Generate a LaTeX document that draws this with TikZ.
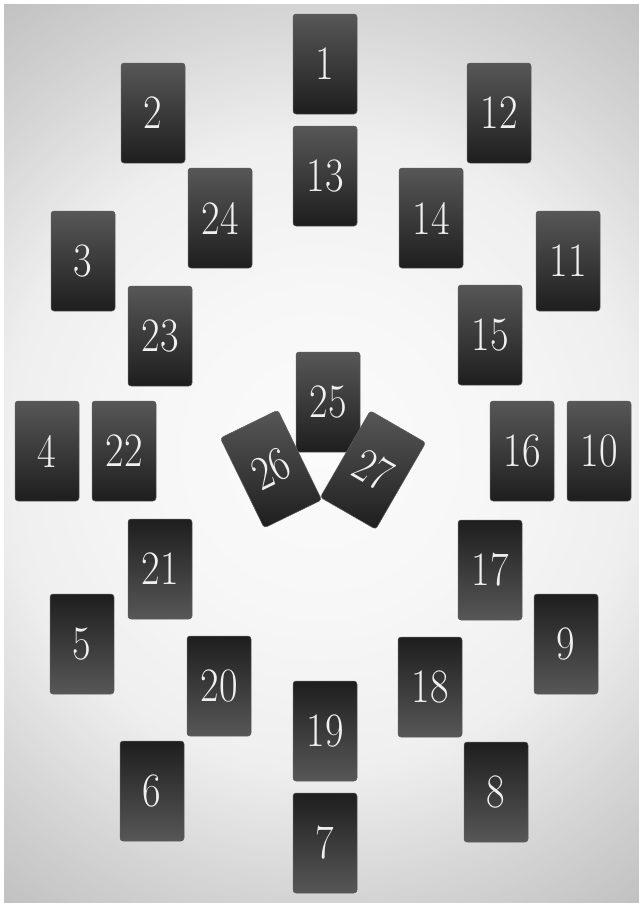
\documentclass[tikz,border=0pt]{standalone}
\usepackage{graphicx}
\usepackage{fontspec}
\setmainfont{Latin Modern Roman}
\definecolor{cardlight}{HTML}{575757}
\definecolor{carddark}{HTML}{1E1E1E}
\definecolor{cardedge}{HTML}{5E5E5E}
\definecolor{cardtext}{HTML}{F0F0F0}
\definecolor{bgc0}{HTML}{FBFBFB}
\definecolor{bgc1}{HTML}{F7F7F7}
\definecolor{bgc2}{HTML}{EFEFEF}
\definecolor{bgc3}{HTML}{D4D4D4}
\definecolor{bgc4}{HTML}{C0C0C0}
\newcommand\cardnum[1]{\scalebox{0.84}[1]{#1}}
\tikzset{
  card/.style={rounded corners=3pt, minimum width=64pt, minimum height=100pt,
    inner sep=0pt, draw=cardedge, line width=0.5pt, text=cardtext,
    font=\fontsize{48}{48}\selectfont},
  cardup/.style={card, top color=cardlight, bottom color=carddark},
  carddown/.style={card, top color=carddark, bottom color=cardlight}
}
\begin{document}
\begin{tikzpicture}[x=1pt,y=-1pt]
\useasboundingbox (0,0) rectangle (639,903);
\fill[white] (0,0) rectangle (639,903);
\coordinate (bgc) at (321,453);
\begin{scope}
\clip (4,4) rectangle (639,903);
\foreach \r in {560,556,...,452} {
  \pgfmathtruncatemacro\p{(560-\r)/110*100}
  \fill[bgc3!\p!bgc4] (bgc) circle (\r pt);
}
\foreach \r in {448,444,...,320} {
  \pgfmathtruncatemacro\p{(450-\r)/133*100}
  \fill[bgc2!\p!bgc3] (bgc) circle (\r pt);
}
\foreach \r in {316,312,...,164} {
  \pgfmathtruncatemacro\p{(317-\r)/157*100}
  \fill[bgc1!\p!bgc2] (bgc) circle (\r pt);
}
\foreach \r in {160,156,...,4} {
  \pgfmathtruncatemacro\p{(160-\r)/160*100}
  \fill[bgc0!\p!bgc1] (bgc) circle (\r pt);
}
\end{scope}
% upper half
\node[cardup] (c1)  at (325,64)  {\cardnum{1}};
\node[cardup] (c2)  at (153,113) {\cardnum{2}};
\node[cardup] (c12) at (499,113) {\cardnum{12}};
\node[cardup] (c13) at (325,176) {\cardnum{13}};
\node[cardup] (c24) at (220,218) {\cardnum{24}};
\node[cardup] (c14) at (431,218) {\cardnum{14}};
\node[cardup] (c3)  at (83,261)  {\cardnum{3}};
\node[cardup] (c11) at (568,261) {\cardnum{11}};
\node[cardup] (c23) at (160,336) {\cardnum{23}};
\node[cardup] (c15) at (490,335) {\cardnum{15}};
\node[cardup] (c4)  at (47,451)  {\cardnum{4}};
\node[cardup] (c22) at (124,451) {\cardnum{22}};
\node[cardup] (c16) at (522,451) {\cardnum{16}};
\node[cardup] (c10) at (599,451) {\cardnum{10}};
% centre
\node[cardup] (c25) at (328,402) {\cardnum{25}};
\node[cardup, rotate=26] (c26) at (271,469) {\cardnum{26}};
\node[cardup, rotate=-30] (c27) at (373,470) {\cardnum{27}};
% lower half
\node[carddown] (c21) at (160,569) {\cardnum{21}};
\node[carddown] (c17) at (490,570) {\cardnum{17}};
\node[carddown] (c5)  at (82,644)  {\cardnum{5}};
\node[carddown] (c9)  at (566,644) {\cardnum{9}};
\node[carddown] (c20) at (219,686) {\cardnum{20}};
\node[carddown] (c18) at (430,687) {\cardnum{18}};
\node[carddown] (c19) at (325,731) {\cardnum{19}};
\node[carddown] (c6)  at (152,791) {\cardnum{6}};
\node[carddown] (c8)  at (496,792) {\cardnum{8}};
\node[carddown] (c7)  at (325,843) {\cardnum{7}};
\end{tikzpicture}
\end{document}
